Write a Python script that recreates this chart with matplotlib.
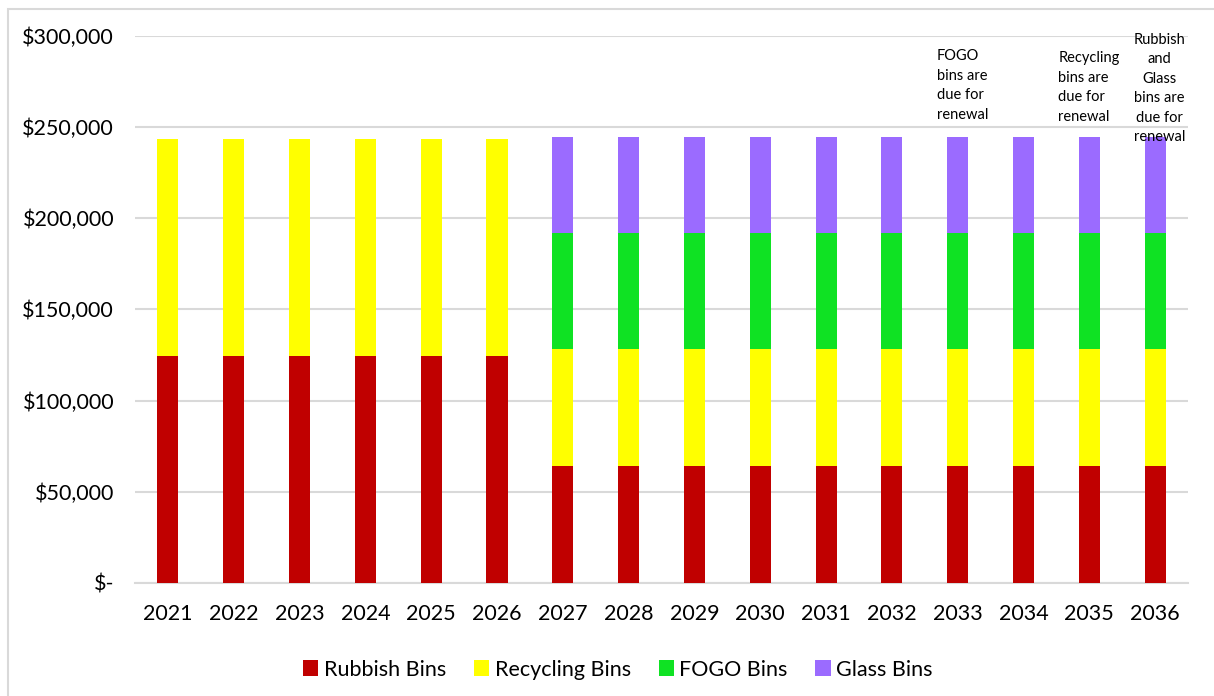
import matplotlib.pyplot as plt
import matplotlib.patches as mpatches
from matplotlib.ticker import FuncFormatter

years = [str(y) for y in range(2021, 2037)]
rubbish = [124500] * 6 + [64000] * 10
recycling = [119000] * 6 + [64000] * 10
fogo = [0] * 6 + [64000] * 10
glass = [0] * 6 + [52500] * 10

notes = [
    (12, "FOGO\nbins are\ndue for\nrenewal", 292500, -0.32, "left"),
    (14, "Recycling\nbins are\ndue for\nrenewal", 291500, -0.47, "left"),
    (15, "Rubbish\nand\nGlass\nbins are\ndue for\nrenewal", 301500, 0.07, "center"),
]

plt.rcParams['font.family'] = ['Lato', 'DejaVu Sans']

fig = plt.figure(figsize=(12.14, 6.96), dpi=100)
ax = fig.add_axes([0.1112, 0.1624, 0.8674, 0.7863])

# chart area border
fig.patches.append(mpatches.Rectangle((8 / 1214, -0.05), 1.1, (696 - 9) / 696 + 0.05,
                                      transform=fig.transFigure, fill=False,
                                      edgecolor='#d9d9d9', lw=1.5))

x = range(len(years))
w = 0.32
cols = ['#c00000', '#ffff00', '#0fe223', '#9b6bff']
bottom = [0] * len(years)
for vals, c, lab in zip([rubbish, recycling, fogo, glass], cols,
                        ['Rubbish Bins', 'Recycling Bins', 'FOGO Bins', 'Glass Bins']):
    ax.bar(x, vals, w, bottom=bottom, color=c, label=lab, zorder=3)
    bottom = [b + v for b, v in zip(bottom, vals)]

ax.set_xlim(-0.5, len(years) - 0.5)
ax.set_ylim(0, 300000)
ax.set_yticks(range(0, 300001, 50000))
ax.yaxis.set_major_formatter(FuncFormatter(lambda v, p: '$-' if v == 0 else '${:,.0f}'.format(v)))
ax.set_xticks(list(x))
ax.set_xticklabels(years)
ax.tick_params(axis='x', length=0, labelsize=15.5, pad=15)
ax.tick_params(axis='y', length=0, labelsize=15.5, pad=15)
ax.grid(axis='y', color='#d9d9d9', lw=1.5, zorder=0)
for s in ['top', 'right', 'left']:
    ax.spines[s].set_visible(False)
ax.spines['bottom'].set_color('#d9d9d9')
ax.spines['bottom'].set_linewidth(1.5)

for i, txt, y, dx, ha in notes:
    ax.text(i + dx, y, txt, ha=ha, va='top', fontsize=10.5, linespacing=1.5,
            clip_on=False, zorder=4)

fig.legend(loc='center', bbox_to_anchor=(0.509, 0.038), ncol=4, frameon=False,
           fontsize=15.5, handlelength=0.7, handleheight=0.7, handletextpad=0.25,
           columnspacing=1.3)

fig.savefig('out.png', dpi=100)
